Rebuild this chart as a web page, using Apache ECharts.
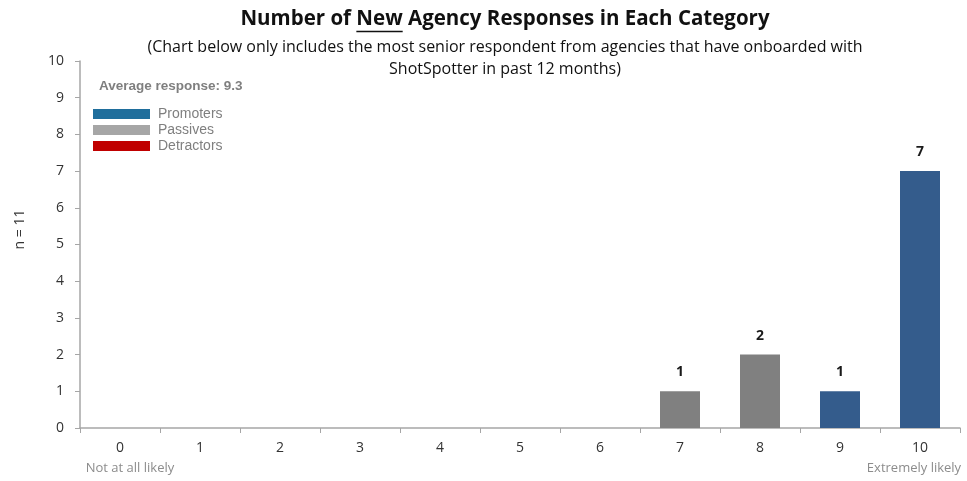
<!DOCTYPE html>
<html>
<head>
<meta charset="utf-8">
<script src="https://cdn.jsdelivr.net/npm/echarts@6/dist/echarts.min.js"></script>
<style>
  html, body { margin: 0; padding: 0; background: #fff; }
  #chart { width: 967px; height: 481px; }
</style>
</head>
<body>
<div id="chart"></div>
<script>
// Likelihood-to-recommend scores and response counts per score
const categories = ['0', '1', '2', '3', '4', '5', '6', '7', '8', '9', '10'];
const promoters  = [null, null, null, null, null, null, null, null, null, 1, 7];
const passives   = [null, null, null, null, null, null, null, 1, 2, null, null];
const detractors = [null, null, null, null, null, null, null, null, null, null, null];
const yTicks = [0, 1, 2, 3, 4, 5, 6, 7, 8, 9, 10];
const averageText = 'Average response: 9.3';
const sampleText = 'n = 11';
const lowEnd = 'Not at all likely';
const highEnd = 'Extremely likely';
const titlePre = 'Number of ';
const titleKey = 'New';
const titlePost = ' Agency Responses in Each Category';
const noteText = '(Chart below only includes the most senior respondent from agencies that have onboarded with\nShotSpotter in past 12 months)';

const FONT = '"Open Sans", "Liberation Sans", sans-serif';
const ARIAL = '"Liberation Sans", Arial, sans-serif';
const TITLE_SIZE = 20.5;
const TITLE_X = 505;
const chart = echarts.init(document.getElementById('chart'), null, { renderer: 'canvas' });

const labelCfg = {
  show: true,
  position: 'top',
  distance: 12,
  fontFamily: FONT,
  fontWeight: 'bold',
  fontSize: 14,
  color: '#1a1a1a'
};

// underline position for the emphasised word of the title
const ctx = document.createElement('canvas').getContext('2d');
ctx.font = 'bold ' + TITLE_SIZE + 'px ' + FONT;
const preW = ctx.measureText(titlePre).width;
const keyW = ctx.measureText(titleKey).width;
const fullW = ctx.measureText(titlePre + titleKey + titlePost).width;
const ulX = TITLE_X - fullW / 2 + preW;

function xLabel(v) {
  if (v === categories[0]) return '{n|' + v + '}\n{lo|' + lowEnd + '}';
  if (v === categories[categories.length - 1]) return '{n|' + v + '}\n{hi|' + highEnd + '}';
  return '{n|' + v + '}';
}

chart.setOption({
  animation: false,
  graphic: [
    { type: 'text', x: TITLE_X, y: 9,
      style: { text: titlePre + titleKey + titlePost, align: 'center', verticalAlign: 'top',
               fontFamily: FONT, fontSize: TITLE_SIZE, fontWeight: 'bold', fill: '#111' } },
    { type: 'line', shape: { x1: ulX, y1: 31.5, x2: ulX + keyW, y2: 31.5 },
      style: { stroke: '#111', lineWidth: 1.3 } },
    { type: 'text', x: TITLE_X, y: 36.5,
      style: { text: noteText, align: 'center', verticalAlign: 'top', lineHeight: 22,
               fontFamily: FONT, fontSize: 16, fill: '#111' } },
    { type: 'text', x: 99, y: 79,
      style: { text: averageText, fontFamily: ARIAL, fontSize: 13.5, fontWeight: 'bold', fill: '#7f7f7f' } }
  ],
  legend: {
    orient: 'vertical',
    left: 88,
    top: 102,
    itemWidth: 57,
    itemHeight: 10,
    itemGap: 2,
    selectedMode: false,
    textStyle: { fontFamily: ARIAL, fontSize: 14, color: '#7f7f7f', padding: [0, 0, 0, 3], lineHeight: 14 },
    data: [
      { name: 'Promoters', icon: 'rect', itemStyle: { color: '#1f6e9c' } },
      { name: 'Passives', icon: 'rect', itemStyle: { color: '#a6a6a6' } },
      { name: 'Detractors', icon: 'rect', itemStyle: { color: '#c00000' } }
    ]
  },
  grid: { left: 80, right: 7, top: 61, bottom: 53, containLabel: false, outerBoundsMode: 'none' },
  xAxis: {
    type: 'category',
    data: categories,
    boundaryGap: true,
    axisLine: { lineStyle: { color: '#a6a6a6', width: 1.5 } },
    axisTick: { show: true, interval: 0, length: 5, lineStyle: { color: '#a6a6a6' } },
    axisLabel: {
      interval: 0,
      margin: 9,
      hideOverlap: false,
      formatter: xLabel,
      rich: {
        n: { fontFamily: FONT, fontSize: 14, color: '#333', lineHeight: 22 },
        lo: { fontFamily: FONT, fontSize: 13, color: '#8c8c8c', lineHeight: 18, padding: [0, 0, 0, 20] },
        hi: { fontFamily: FONT, fontSize: 13, color: '#8c8c8c', lineHeight: 18, padding: [0, 12, 0, 0] }
      }
    }
  },
  yAxis: {
    type: 'value',
    min: 0,
    max: 10,
    interval: 1,
    name: sampleText,
    nameLocation: 'middle',
    nameRotate: 90,
    nameGap: 53,
    nameTextStyle: { fontFamily: FONT, fontSize: 14, color: '#333', padding: [0, 0, 0, 30] },
    axisLine: { show: true, lineStyle: { color: '#a6a6a6', width: 1.5 } },
    axisTick: { show: true, length: 5, lineStyle: { color: '#a6a6a6' } },
    splitLine: { show: false },
    axisLabel: {
      margin: 16,
      fontFamily: FONT,
      fontSize: 14,
      color: '#333',
      formatter: v => yTicks.includes(v) ? String(v) : ''
    }
  },
  series: [
    { name: 'Promoters', type: 'bar', stack: 'n', barWidth: '50%', data: promoters,
      itemStyle: { color: '#345c8c' }, label: labelCfg },
    { name: 'Passives', type: 'bar', stack: 'n', barWidth: '50%', data: passives,
      itemStyle: { color: '#808080' }, label: labelCfg },
    { name: 'Detractors', type: 'bar', stack: 'n', barWidth: '50%', data: detractors,
      itemStyle: { color: '#c00000' }, label: labelCfg }
  ]
});
</script>
</body>
</html>
